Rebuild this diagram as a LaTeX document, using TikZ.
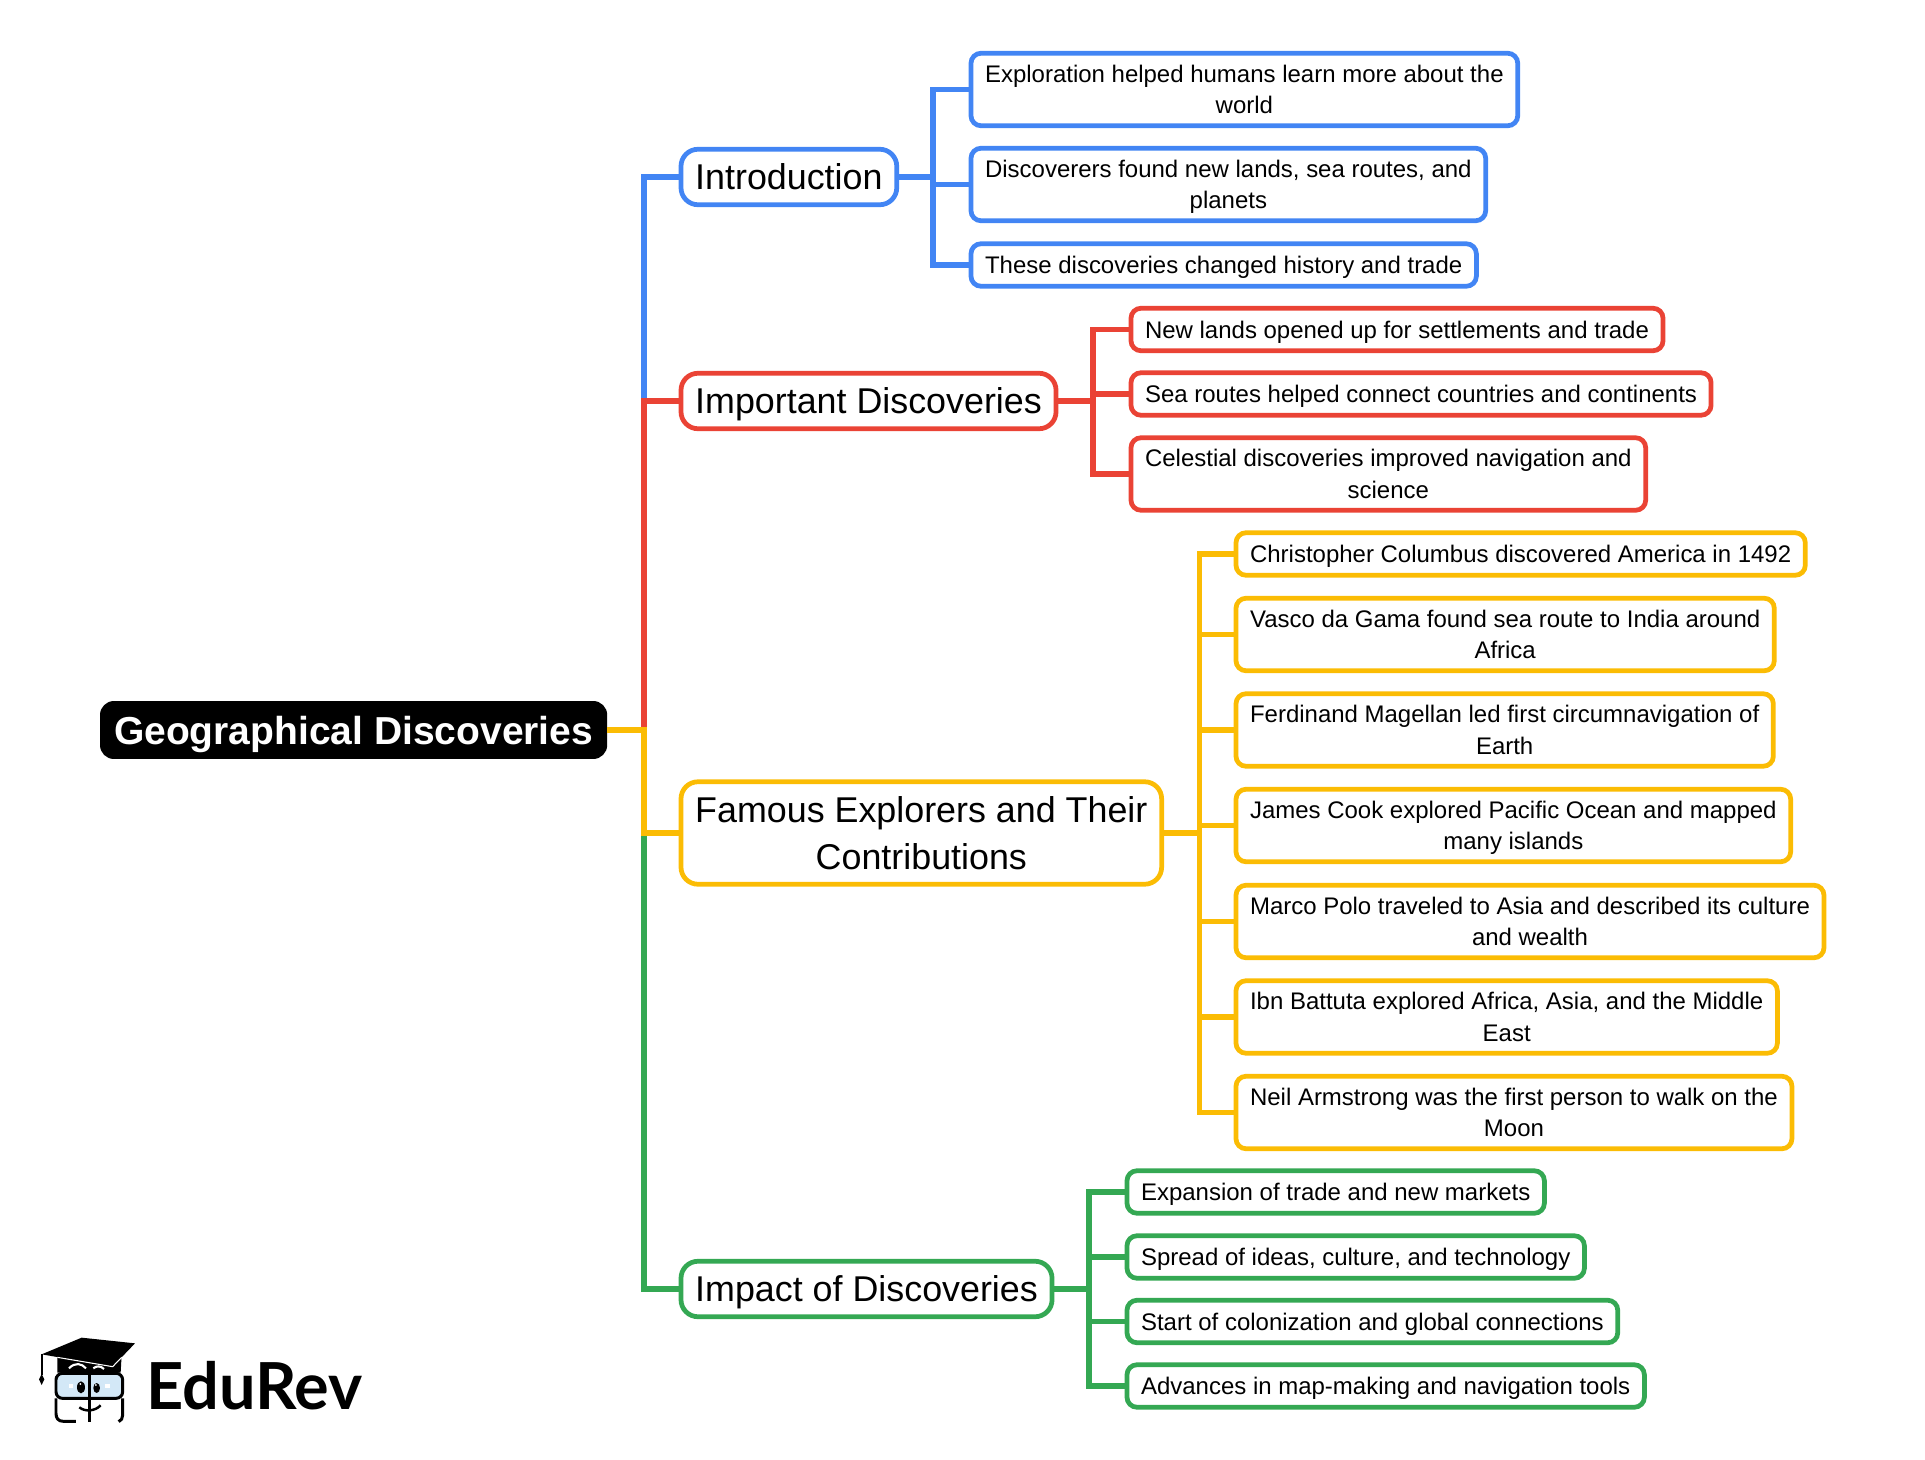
\documentclass[tikz,border=0pt]{standalone}
\usepackage{fontspec}
\setmainfont{Liberation Sans}
\newfontfamily\logofont{Lato}
\definecolor{gblue}{HTML}{4285F4}
\definecolor{gred}{HTML}{EA4335}
\definecolor{gyellow}{HTML}{FBBC04}
\definecolor{ggreen}{HTML}{34A853}
\definecolor{lens}{HTML}{D3E8F7}
\newcommand\nodestrut{\rule[-0.22em]{0pt}{1.16em}}
\newcommand\toprow{\rule{0pt}{0.93em}}
\tikzset{
  boxnode/.style={anchor=west,outer sep=0,inner ysep=0,align=center,execute at begin node=\nodestrut,execute at end node=\nodestrut},
  rootnode/.style={boxnode,fill=black,text=white,rounded corners=0.28cm,inner xsep=8pt,minimum height=1.16cm,font=\fontsize{22.2}{27}\selectfont\bfseries},
  topicnode/.style={boxnode,draw=#1,fill=white,line width=2.7pt,rounded corners=0.34cm,inner xsep=8.1pt,minimum height=1.11cm,font=\fontsize{20.4}{26.5}\selectfont},
  leafnode/.style={boxnode,draw=#1,fill=white,line width=2.7pt,rounded corners=0.2cm,inner xsep=8pt,minimum height=0.85cm,font=\fontsize{13.65}{17.9}\selectfont},
  conn/.style={draw=#1,line width=3.2pt}
}
\begin{document}
\begin{tikzpicture}[x=0.02cm,y=-0.02cm]
\useasboundingbox (0,0) rectangle (1925,1460);

\coordinate (tr1) at (644,401);
\coordinate (tr2) at (644,730);
\coordinate (tr3) at (644,833);
\coordinate (sp1) at (933,177);
\coordinate (sp2) at (1093,401);
\coordinate (sp3) at (1199.5,833);
\coordinate (sp4) at (1089,1289);

\node[rootnode] (root) at (100,730) {Geographical Discoveries};

\node[topicnode=gblue] (intro) at (681,177) {Introduction};
\node[topicnode=gred] (imp) at (681,401) {Important Discoveries};
\node[topicnode=gyellow,minimum height=2.05cm] (fam) at (681,833) {\toprow Famous Explorers and Their\\Contributions};
\node[topicnode=ggreen] (eff) at (681,1289) {Impact of Discoveries};

\node[leafnode=gblue,minimum height=1.45cm] (b1) at (971,89.5) {\toprow Exploration helped humans learn more about the\\world};
\node[leafnode=gblue,minimum height=1.45cm] (b2) at (971,184.5) {\toprow Discoverers found new lands, sea routes, and\\planets};
\node[leafnode=gblue] (b3) at (971,265) {These discoveries changed history and trade};

\node[leafnode=gred] (r1) at (1131,329.5) {New lands opened up for settlements and trade};
\node[leafnode=gred] (r2) at (1131,394) {Sea routes helped connect countries and continents};
\node[leafnode=gred,minimum height=1.45cm] (r3) at (1131,474) {\toprow Celestial discoveries improved navigation and\\science};

\node[leafnode=gyellow] (y1) at (1236,554) {Christopher Columbus discovered America in 1492};
\node[leafnode=gyellow,minimum height=1.45cm] (y2) at (1236,634.5) {\toprow Vasco da Gama found sea route to India around\\Africa};
\node[leafnode=gyellow,minimum height=1.45cm] (y3) at (1236,730) {\toprow Ferdinand Magellan led first circumnavigation of\\Earth};
\node[leafnode=gyellow,minimum height=1.45cm] (y4) at (1236,825.5) {\toprow James Cook explored Pacific Ocean and mapped\\many islands};
\node[leafnode=gyellow,minimum height=1.45cm] (y5) at (1236,921.5) {\toprow Marco Polo traveled to Asia and described its culture\\and wealth};
\node[leafnode=gyellow,minimum height=1.45cm] (y6) at (1236,1017) {\toprow Ibn Battuta explored Africa, Asia, and the Middle\\East};
\node[leafnode=gyellow,minimum height=1.45cm] (y7) at (1236,1112.5) {\toprow Neil Armstrong was the first person to walk on the\\Moon};

\node[leafnode=ggreen] (g1) at (1127,1192) {Expansion of trade and new markets};
\node[leafnode=ggreen] (g2) at (1127,1257) {Spread of ideas, culture, and technology};
\node[leafnode=ggreen] (g3) at (1127,1321.5) {Start of colonization and global connections};
\node[leafnode=ggreen] (g4) at (1127,1386) {Advances in map-making and navigation tools};

% trunk
\draw[conn=gblue] (intro.west) -| (tr1);
\draw[conn=gred] (imp.west) -| (tr2);
\draw[conn=ggreen] (eff.west) -| (tr3);
\draw[conn=gyellow] (root.east) -- (tr2) |- (fam.west);

% branches
\foreach \a in {b1,b2,b3} {\draw[conn=gblue] (sp1) |- (\a.west);}
\foreach \a in {r1,r2,r3} {\draw[conn=gred] (sp2) |- (\a.west);}
\foreach \a in {y1,y2,y3,y4,y5,y6,y7} {\draw[conn=gyellow] (sp3) |- (\a.west);}
\foreach \a in {g1,g2,g3,g4} {\draw[conn=ggreen] (sp4) |- (\a.west);}
\draw[conn=gblue] (intro.east) -- (sp1);
\draw[conn=gred] (imp.east) -- (sp2);
\draw[conn=gyellow] (fam.east) -- (sp3);
\draw[conn=ggreen] (eff.east) -- (sp4);

% logo
\node[anchor=base west,inner sep=0,outer sep=0,font=\fontsize{36.9}{40}\selectfont\logofont\bfseries] (brand) at (146,1409) {EduRev};
\begin{scope}[shift={(0,1300)},scale=0.3333]
\fill (172,165) -- (172,218) -- (362,218) -- (365,165) -- cycle;
\draw[white,line width=1.2pt] (207,205) .. controls (225,186) and (245,190) .. (258,205);
\draw[white,line width=1.2pt] (280,205) .. controls (290,197) and (302,197) .. (312,207);
\fill (125,163) -- (245,113) -- (405,130) -- (338,200) -- cycle;
\draw[white,line width=0.6pt] (172,172) -- (338,200) -- (365,172);
\draw[line width=1pt] (125,163) -- (125,225);
\fill (125,222) -- (117,238) -- (125,255) -- (133,238) -- cycle;
\draw[line width=1.7pt,rounded corners=0.13cm,fill=lens] (168,220) rectangle (368,295);
\draw[line width=1.7pt] (228,364) -- (190,364) .. controls (175,364) and (168,355) .. (168,340) -- (168,295);
\draw[line width=1.7pt] (368,295) -- (368,345) .. controls (368,355) and (364,362) .. (356,365);
\draw[line width=1.6pt] (268,215) -- (268,366);
\draw[line width=1.4pt] (238,322) .. controls (255,336) and (285,334) .. (302,316);
\fill (243,262) ellipse [x radius=12,y radius=18];
\fill (290,264) ellipse [x radius=10,y radius=15];
\fill[white] (206,251) rectangle (220,265);
\fill[white] (316,251) rectangle (330,265);
\fill[white] (241,252) circle (3);
\fill[white] (288,255) circle (3);
\end{scope}

\end{tikzpicture}
\end{document}
